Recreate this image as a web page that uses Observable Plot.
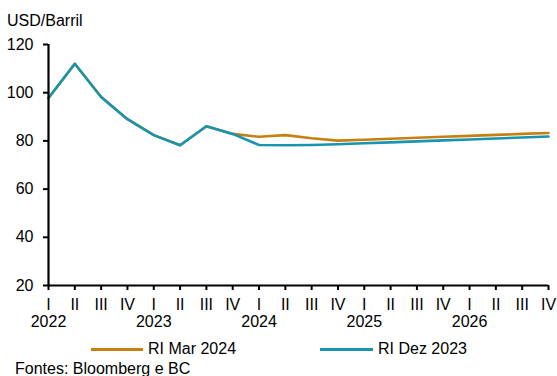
<!DOCTYPE html>
<html>
<head>
<meta charset="utf-8">
<script src="https://cdn.jsdelivr.net/npm/d3@7"></script>
<script src="https://cdn.jsdelivr.net/npm/@observablehq/plot@0.6"></script>
<style>
  html, body { margin: 0; padding: 0; background: #fff; }
  body { width: 557px; height: 376px; position: relative; overflow: hidden;
         font-family: "Liberation Sans", Arial, sans-serif; color: #000; }
  .abs { position: absolute; white-space: nowrap; font-size: 16px; line-height: 18px; }
  #chart { position: absolute; left: 0; top: 30px; }
  .sw { position: absolute; height: 3px; }
</style>
</head>
<body>
<div class="abs" id="unit" style="left:7px; top:12px;">USD/Barril</div>
<div id="chart"></div>
<div class="sw" id="sw1" style="left:91px; top:348px; width:52px;"></div>
<div class="abs" id="lg1" style="left:148px; top:340px;"></div>
<div class="sw" id="sw2" style="left:320px; top:348px; width:53px;"></div>
<div class="abs" id="lg2" style="left:378px; top:340px;"></div>
<div class="abs" id="src" style="left:15px; top:360px;">Fontes: Bloomberg e BC</div>
<script>
const quarters = ["I","II","III","IV","I","II","III","IV","I","II","III","IV","I","II","III","IV","I","II","III","IV"];
const years = ["2022","2023","2024","2025","2026"];
const seriesNames = ["RI Mar 2024", "RI Dez 2023"];
const seriesColors = ["#C6800F", "#1795B0"];
const riMar2024 = [97.8, 112, 98.2, 89, 82.4, 78.2, 86.1, 82.9,
                   81.7, 82.4, 81.1, 80.1, 80.5, 80.9, 81.3, 81.7, 82.1, 82.5, 82.9, 83.3];
const riDez2023 = [97.8, 112, 98.2, 89, 82.4, 78.2, 86.1, 82.9,
                   78.3, 78.2, 78.3, 78.6, 79.0, 79.4, 79.8, 80.2, 80.6, 81.0, 81.4, 81.8];
const yTicks = [20, 40, 60, 80, 100, 120];

const toRows = (vals) => vals.map((v, i) => ({i, v}));

document.getElementById("sw1").style.background = seriesColors[0];
document.getElementById("sw2").style.background = seriesColors[1];
document.getElementById("lg1").textContent = seriesNames[0];
document.getElementById("lg2").textContent = seriesNames[1];

const chart = Plot.plot({
  width: 557,
  height: 302,
  marginTop: 14,
  marginLeft: 48,
  marginRight: 9,
  marginBottom: 47,
  x: {domain: [0, quarters.length - 1]},
  y: {domain: [20, 120]},
  style: {fontFamily: '"Liberation Sans", Arial, sans-serif', fontSize: "16px", color: "#000", background: "transparent", overflow: "visible"},
  marks: [
    Plot.line(toRows(riMar2024), {x: "i", y: "v", stroke: seriesColors[0], strokeWidth: 2.6}),
    Plot.line(toRows(riDez2023), {x: "i", y: "v", stroke: seriesColors[1], strokeWidth: 2.6}),
    Plot.ruleX([0], {stroke: "#000", strokeWidth: 2.2}),
    Plot.ruleY([20], {stroke: "#000", strokeWidth: 2.2}),
    Plot.axisY({ticks: yTicks, tickSize: 5, tickPadding: 10, tickFormat: d => String(d), label: null, strokeWidth: 2}),
    Plot.axisX({ticks: d3.range(quarters.length), tickFormat: i => quarters[i], tickSize: 5, tickPadding: 8, label: null, strokeWidth: 2}),
    Plot.axisX({ticks: [0, 4, 8, 12, 16], tickFormat: i => years[i / 4], tickSize: 0, tickPadding: 30, label: null})
  ]
});
document.getElementById("chart").appendChild(chart);
</script>
</body>
</html>
